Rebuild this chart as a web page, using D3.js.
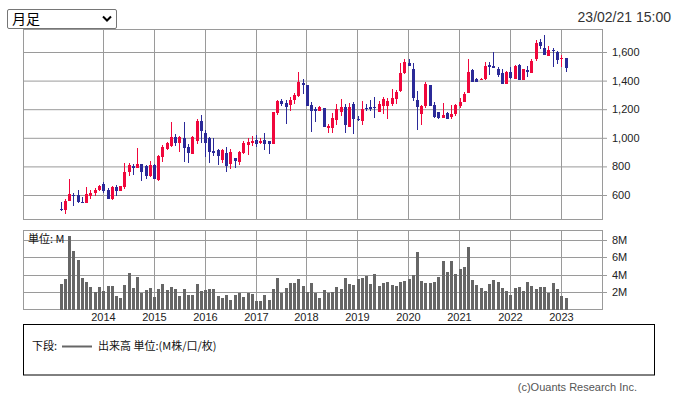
<!DOCTYPE html>
<html><head><meta charset="utf-8">
<script src="https://cdn.jsdelivr.net/npm/d3@7"></script>
<style>body{margin:0;background:#fff}svg{display:block}</style>
</head><body><svg id="c" width="677" height="397"></svg>
<script>
const months = [
"2013-03","2013-04","2013-05","2013-06","2013-07","2013-08","2013-09","2013-10","2013-11","2013-12",
"2014-01","2014-02","2014-03","2014-04","2014-05","2014-06","2014-07","2014-08","2014-09","2014-10","2014-11","2014-12",
"2015-01","2015-02","2015-03","2015-04","2015-05","2015-06","2015-07","2015-08","2015-09","2015-10","2015-11","2015-12",
"2016-01","2016-02","2016-03","2016-04","2016-05","2016-06","2016-07","2016-08","2016-09","2016-10","2016-11","2016-12",
"2017-01","2017-02","2017-03","2017-04","2017-05","2017-06","2017-07","2017-08","2017-09","2017-10","2017-11","2017-12",
"2018-01","2018-02","2018-03","2018-04","2018-05","2018-06","2018-07","2018-08","2018-09","2018-10","2018-11","2018-12",
"2019-01","2019-02","2019-03","2019-04","2019-05","2019-06","2019-07","2019-08","2019-09","2019-10","2019-11","2019-12",
"2020-01","2020-02","2020-03","2020-04","2020-05","2020-06","2020-07","2020-08","2020-09","2020-10","2020-11","2020-12",
"2021-01","2021-02","2021-03","2021-04","2021-05","2021-06","2021-07","2021-08","2021-09","2021-10","2021-11","2021-12",
"2022-01","2022-02","2022-03","2022-04","2022-05","2022-06","2022-07","2022-08","2022-09","2022-10","2022-11","2022-12",
"2023-01","2023-02"];
const open = [505,494,557,601,601,554,544,594,617,636,
677,632,574,656,628,657,761,800,790,814,805,730,
812,703,868,923,943,1004,964,998,936,889,977,1115,
1032,1000,906,914,845,897,818,860,832,893,953,963,
982,962,982,975,959,1172,1254,1246,1230,1265,1295,1385,
1372,1232,1200,1190,1209,1071,1071,1125,1181,1212,1078,1239,
1133,1120,1209,1212,1218,1181,1223,1225,1239,1274,1324,1456,
1520,1478,1267,1168,1221,1368,1232,1177,1140,1172,1145,1163,
1221,1253,1310,1472,1409,1402,1414,1510,1505,1482,1455,1379,
1460,1414,1510,1407,1472,1453,1554,1669,1628,1575,1616,1600,
1552,1559];
const high = [548,570,710,615,634,584,654,636,647,668,
693,652,660,672,666,825,825,820,932,818,810,835,
815,880,951,974,1108,1030,1010,1108,958,1014,1130,1156,
1053,1006,1000,920,920,935,920,862,910,975,1000,1014,
1018,1000,1034,978,1178,1265,1268,1262,1283,1315,1459,1410,
1372,1250,1214,1225,1209,1094,1175,1237,1271,1237,1241,1248,
1150,1255,1237,1264,1287,1260,1287,1278,1340,1331,1520,1552,
1552,1524,1329,1228,1391,1368,1253,1182,1244,1179,1230,1235,
1276,1317,1552,1478,1419,1419,1529,1533,1600,1494,1478,1465,
1494,1512,1517,1482,1505,1552,1685,1692,1720,1639,1628,1605,
1582,1559];
const low = [490,467,556,521,541,543,543,569,590,631,
617,572,566,595,625,644,732,742,790,698,712,728,
710,699,832,916,937,940,900,830,823,889,960,962,
865,823,876,807,823,762,784,789,811,890,880,942,
937,960,916,890,958,1162,1222,1097,1190,1238,1283,1306,
1221,1038,1107,1190,1078,1035,1032,1092,1150,1035,1078,1025,
1120,1092,1184,1184,1138,1181,1163,1131,1225,1237,1317,1444,
1499,1255,1053,1087,1205,1221,1138,1129,1140,1133,1129,1152,
1207,1253,1310,1391,1391,1402,1402,1439,1488,1425,1379,1373,
1414,1414,1402,1407,1425,1453,1536,1621,1582,1570,1494,1517,
1494,1460];
const close = [494,560,608,590,553,544,608,617,636,664,
626,574,657,625,663,762,807,790,814,762,735,810,
710,872,935,962,1004,964,1004,929,894,1005,1115,1047,
964,902,896,874,914,805,900,838,901,963,971,980,
959,977,959,960,1178,1260,1237,1214,1262,1296,1388,1368,
1221,1190,1185,1215,1078,1083,1140,1198,1212,1092,1212,1131,
1124,1200,1200,1202,1207,1237,1271,1255,1278,1320,1451,1533,
1501,1278,1218,1221,1375,1221,1143,1140,1161,1133,1163,1230,
1253,1306,1460,1391,1391,1414,1505,1498,1488,1441,1379,1460,
1421,1505,1402,1478,1460,1540,1662,1644,1582,1616,1605,1547,
1559,1487];
const volume = [2.92,3.5,8.46,6.73,5.69,3.6,3.15,2.58,1.92,2.58,
2.1,2.7,2.7,1.46,1.3,2.8,4.2,2.46,3.73,1.88,
2.23,2.46,1.42,2.35,2.92,2.23,2.58,2.35,1.54,2.35,
1.65,1.65,2.92,2.1,2.23,2.35,2.35,1.54,1.3,1.65,
1.08,1.65,1.88,1.42,1.88,1.77,0.96,0.96,1.65,1.08,
2.35,3.6,1.88,2.46,3.04,3.04,3.5,2.7,2.0,3.04,
1.88,1.3,2.23,1.88,1.92,2.58,2.35,3.6,2.92,2.8,
3.5,3.6,3.85,2.92,4.08,2.7,3.04,3.15,2.8,2.7,
3.15,3.27,3.5,3.96,6.6,3.27,3.04,3.04,3.15,3.73,
5.58,4.3,5.58,4.08,4.65,4.88,7.2,3.38,2.8,2.46,
2.1,2.92,3.38,3.15,2.46,2.1,1.65,2.46,2.58,2.1,
3.15,2.7,2.35,2.58,2.58,1.88,3.04,2.35,1.54,1.3];
const priceTicks = [600,800,1000,1200,1400,1600];
const volumeTicks = [2,4,6,8];
const yearTicks = [2014,2015,2016,2017,2018,2019,2020,2021,2022,2023];
const periodLabel = "月足";
const dateLabel = "23/02/21 15:00";
const volumeUnit = "単位: M";
const legendPrefix = "下段:";
const legendText = "出来高 単位:(M株/口/枚)";
const credit = "(c)Ouants Research Inc.";

const UP = "#f0073c", DOWN = "#2b2a98", GRID = "#9a9a9a", VOL = "#666666";
const LAT = "'Liberation Sans', Arial, sans-serif";
const CJK = "'Noto Sans CJK JP', sans-serif";

const parse = d3.timeParse("%Y-%m");
const data = months.map((m, i) => ({date: parse(m), o: open[i], h: high[i], l: low[i], c: close[i], v: volume[i]}));

const svg = d3.select("#c");
const L = 23, R = 602;
const x = d3.scaleTime().domain([new Date(2014,0,1), new Date(2023,0,1)]).range([103.3, 561.3]);
const y = d3.scaleLinear().domain([600,1600]).range([195,52]);
const yv = d3.scaleLinear().domain([0,8]).range([309,240]);
const yvR = yv.copy().interpolate(d3.interpolateRound);
const gx = d => Math.floor(x(d)) + 0.5;

// price panel frame + grid
const gp = svg.append("g");
gp.append("rect").attr("x", L+0.5).attr("y", 29.5).attr("width", R-L).attr("height", 190)
  .attr("fill", "none").attr("stroke", GRID);
gp.selectAll("line.h").data(priceTicks).join("line")
  .attr("x1", L).attr("x2", R).attr("y1", d => y(d)+0.5).attr("y2", d => y(d)+0.5)
  .attr("stroke", GRID);
gp.selectAll("line.v").data(yearTicks).join("line")
  .attr("x1", d => gx(new Date(d,0,1))).attr("x2", d => gx(new Date(d,0,1)))
  .attr("y1", 29.5).attr("y2", 219.5).attr("stroke", GRID);

// volume panel frame + grid
const gvp = svg.append("g");
gvp.append("rect").attr("x", L+0.5).attr("y", 230.5).attr("width", R-L).attr("height", 79)
  .attr("fill", "none").attr("stroke", GRID);
gvp.selectAll("line.h").data(volumeTicks).join("line")
  .attr("x1", L).attr("x2", R).attr("y1", d => yvR(d)+0.5).attr("y2", d => yvR(d)+0.5)
  .attr("stroke", GRID);
gvp.selectAll("line.v").data(yearTicks).join("line")
  .attr("x1", d => gx(new Date(d,0,1))).attr("x2", d => gx(new Date(d,0,1)))
  .attr("y1", 230.5).attr("y2", 309.5).attr("stroke", GRID);

// candles
const bx = d => Math.round(x(d.date) + 0.5 - 1.5);
const gc = svg.append("g");
gc.selectAll("rect.w").data(data).join("rect")
  .attr("x", d => bx(d) + 1).attr("width", 1)
  .attr("y", d => Math.round(y(d.h))).attr("height", d => Math.max(1, Math.round(y(d.l)) - Math.round(y(d.h))))
  .attr("fill", d => d.c >= d.o ? UP : DOWN);
gc.selectAll("rect.b").data(data).join("rect")
  .attr("x", d => bx(d)).attr("width", 3)
  .attr("y", d => Math.round(y(Math.max(d.o, d.c))))
  .attr("height", d => Math.max(1, Math.round(y(Math.min(d.o, d.c))) - Math.round(y(Math.max(d.o, d.c)))))
  .attr("fill", d => d.c >= d.o ? UP : DOWN);

// volume bars
svg.append("g").selectAll("rect").data(data).join("rect")
  .attr("x", d => bx(d)).attr("width", 3)
  .attr("y", d => Math.round(yv(d.v))).attr("height", d => 310 - Math.round(yv(d.v)))
  .attr("fill", VOL);

// axes
const ya = svg.append("g").attr("transform", `translate(${R},0)`)
  .call(d3.axisRight(y).tickValues(priceTicks).tickSize(5).tickPadding(5).tickFormat(d3.format(",")));
const yva = svg.append("g").attr("transform", `translate(${R},0)`)
  .call(d3.axisRight(yvR).tickValues(volumeTicks).tickSize(5).tickPadding(5).tickFormat(d => d + "M"));
[ya, yva].forEach(g => {
  g.select(".domain").remove();
  g.selectAll("line").attr("stroke", GRID);
  g.selectAll("text").attr("font-family", LAT).attr("font-size", 11).attr("fill", "#222");
});

svg.append("g").selectAll("text").data(yearTicks).join("text")
  .attr("x", d => gx(new Date(d,0,1))).attr("y", 321).attr("text-anchor", "middle")
  .attr("font-family", LAT).attr("font-size", 11).attr("fill", "#222").text(d => d);

svg.append("text").attr("x", 28).attr("y", 243).attr("font-family", CJK).attr("font-size", 11)
  .attr("fill", "#111").text(volumeUnit);

// dropdown
svg.append("rect").attr("x", 7.5).attr("y", 9.5).attr("width", 109).attr("height", 19).attr("rx", 1.5)
  .attr("fill", "#fff").attr("stroke", "#767676");
svg.append("text").attr("x", 12).attr("y", 24).attr("font-family", CJK).attr("font-size", 14)
  .attr("fill", "#000").text(periodLabel);
svg.append("path").attr("d", "M103,16.5L107,20.5L111,16.5").attr("fill", "none")
  .attr("stroke", "#000").attr("stroke-width", 2);

svg.append("text").attr("x", 671).attr("y", 21.5).attr("text-anchor", "end")
  .attr("font-family", LAT).attr("font-size", 14).attr("fill", "#333").text(dateLabel);

// legend
svg.append("rect").attr("x", 23.5).attr("y", 324.5).attr("width", 631).attr("height", 50.5)
  .attr("fill", "none").attr("stroke", "#000");
svg.append("text").attr("x", 32).attr("y", 350).attr("font-family", CJK).attr("font-size", 11)
  .attr("fill", "#111").text(legendPrefix);
svg.append("line").attr("x1", 62).attr("x2", 92).attr("y1", 346.5).attr("y2", 346.5)
  .attr("stroke", VOL).attr("stroke-width", 2);
svg.append("text").attr("x", 98).attr("y", 350).attr("font-family", CJK).attr("font-size", 11)
  .attr("fill", "#111").text(legendText);

svg.append("text").attr("x", 637).attr("y", 391).attr("text-anchor", "end")
  .attr("font-family", LAT).attr("font-size", 11).attr("fill", "#555").text(credit);
</script></body></html>
